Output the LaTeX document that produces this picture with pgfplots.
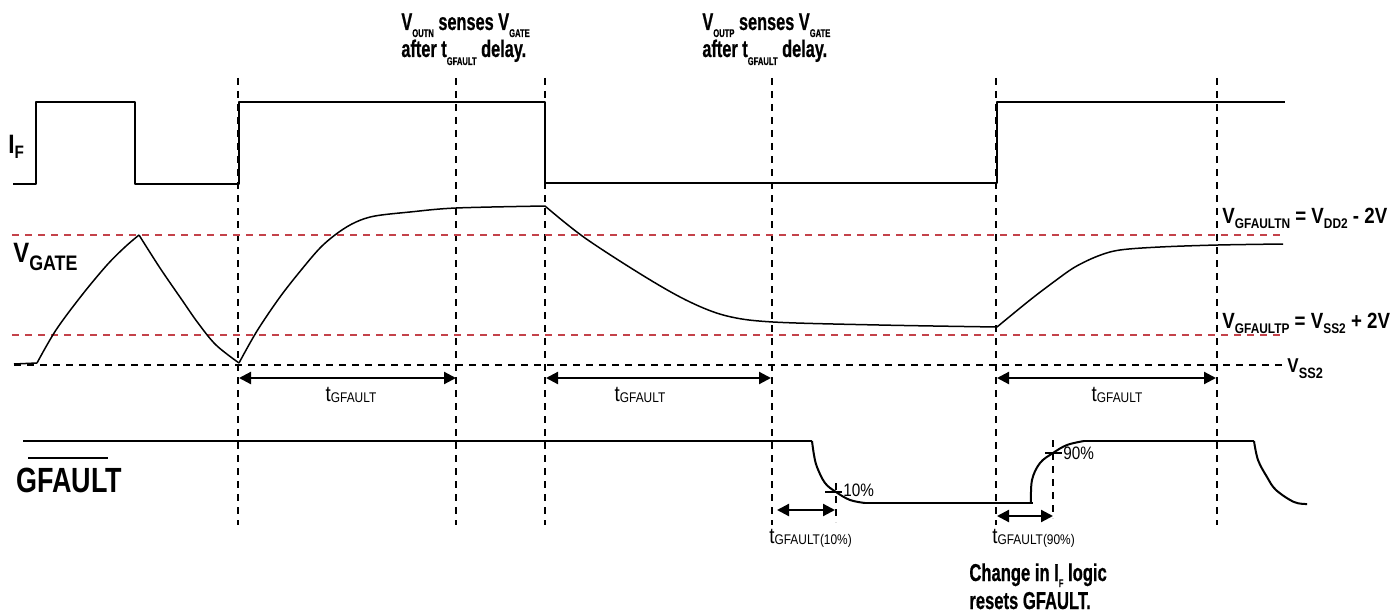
\documentclass[border=0pt]{standalone}
\usepackage{fontspec}
\setmainfont{Liberation Sans}
\newfontfamily\cnd[FakeStretch=0.77]{Liberation Sans}
\newfontfamily\hvy[FakeStretch=0.68, FakeBold=0.6]{Liberation Sans}
\newfontfamily\nrw[FakeStretch=0.85]{Liberation Sans}
\usepackage{graphicx}
\usepackage{pgfplots}
\pgfplotsset{compat=1.18}
\usetikzlibrary{arrows.meta}
\definecolor{vred}{RGB}{196,66,74}
\newcommand\ssub[3]{\raisebox{-#1}{\fontsize{#2}{#2}\selectfont #3}}
\begin{document}
\begin{tikzpicture}
\begin{axis}[
  width=699.5bp, height=306.5bp, scale only axis,
  xmin=0, xmax=1399, ymin=0, ymax=613, y dir=reverse,
  hide axis, clip=false, no markers,
  vd/.style={black, line width=0.7bp, dash pattern=on 3.5bp off 3bp},
  rd/.style={vred, line width=0.8bp, dash pattern=on 3.5bp off 3bp},
  sig/.style={black, line width=1bp, line join=round},
  crv/.style={black, line width=0.75bp, smooth, tension=0.55},
  arr/.style={black, line width=1.1bp, {Triangle[length=6bp,width=6bp]}-{Triangle[length=6bp,width=6bp]}},
]
% bounding box
\addplot[draw=none] coordinates {(0,0) (1399,613)};

% vertical dashed guide lines
\addplot[vd] coordinates {(238,78) (238,525)};
\addplot[vd] coordinates {(456,78) (456,525)};
\addplot[vd] coordinates {(545,78) (545,525)};
\addplot[vd] coordinates {(772,78) (772,525)};
\addplot[vd] coordinates {(996,78) (996,525)};
\addplot[vd] coordinates {(1217,78) (1217,525)};
\addplot[vd] coordinates {(836,483) (836,522)};
\addplot[vd] coordinates {(1053,440) (1053,518)};

% threshold lines
\addplot[rd] coordinates {(12,235) (1283,235)};
\addplot[rd] coordinates {(12,335) (1283,335)};
\addplot[vd] coordinates {(14,365) (1282,365)};

% I_F
\addplot[sig] coordinates {(13,184) (36,184) (36,102) (135,102) (135,184) (239,184) (239,102) (545,102) (545,183) (997,183) (997,102) (1285,102)};

% V_GATE
\addplot[black, line width=0.75bp] coordinates {(14,364) (37,363)};
\addplot[crv] coordinates {(37,363) (56,330) (82,295) (107,265) (125,247) (139,235)};
\addplot[crv] coordinates {(139,235) (160,268) (182,300) (198,323) (216,345) (239,363)};
\addplot[crv] coordinates {(239,363) (257,331) (280,297) (302,269) (321,247) (339,232) (356,222) (375,216) (410,212) (456,208) (545,206)};
\addplot[crv] coordinates {(545,206) (585,238) (647,278) (690,302) (727,316) (773,322) (879,325) (997,327)};
\addplot[crv] coordinates {(997,327) (1030,300) (1055,281) (1075,267) (1098,256) (1120,250) (1160,247) (1218,245) (1283,244)};

% GFAULT signal
\addplot[sig] coordinates {(23,441) (812,441)};
\addplot[sig, smooth, tension=0.6] coordinates {(812,441) (814,455) (817,467) (825,483) (836,492) (850,500) (865,503)};
\addplot[sig] coordinates {(865,503) (1033,503)};
\addplot[sig, smooth, tension=0.6] coordinates {(1031,503) (1032,480) (1040,463) (1053,453) (1067,445) (1084,441)};
\addplot[sig] coordinates {(1084,441) (1254,441)};
\addplot[sig, smooth, tension=0.6] coordinates {(1254,441) (1258,460) (1267,477) (1276,490) (1294,502) (1307,504)};

% 10% / 90% ticks
\addplot[black, line width=0.8bp] coordinates {(825,492) (842,492)};
\addplot[black, line width=0.8bp] coordinates {(1045,453) (1062,453)};

% timing arrows
\addplot[arr] coordinates {(239,378) (456,378)};
\addplot[arr] coordinates {(546,378) (771,378)};
\addplot[arr] coordinates {(997,378) (1216,378)};
\addplot[arr] coordinates {(777,510) (835,510)};
\addplot[arr] coordinates {(997,516) (1053,516)};

% overline of GFAULT
\addplot[black, line width=0.8bp] coordinates {(28,458) (108,458)};

% ---- text ----
% top annotations
\node[anchor=base west, inner sep=0] at (axis cs:401,30) {\hvy\bfseries\fontsize{12bp}{14bp}\selectfont V\ssub{3.5bp}{5.6bp}{OUTN} senses V\ssub{3.5bp}{5.6bp}{GATE}};
\node[anchor=base west, inner sep=0] at (axis cs:401,57) {\hvy\bfseries\fontsize{12bp}{14bp}\selectfont after t\ssub{4bp}{5.6bp}{GFAULT} delay.};
\node[anchor=base west, inner sep=0] at (axis cs:702,30) {\hvy\bfseries\fontsize{12bp}{14bp}\selectfont V\ssub{3.5bp}{5.6bp}{OUTP} senses V\ssub{3.5bp}{5.6bp}{GATE}};
\node[anchor=base west, inner sep=0] at (axis cs:702,57) {\hvy\bfseries\fontsize{12bp}{14bp}\selectfont after t\ssub{4bp}{5.6bp}{GFAULT} delay.};

% left signal labels
\node[anchor=base west, inner sep=0] at (axis cs:8,153) {\nrw\bfseries\fontsize{13.3bp}{15bp}\selectfont I\ssub{2.5bp}{9bp}{F}};
\node[anchor=base west, inner sep=0] at (axis cs:13,262) {\nrw\bfseries\fontsize{14bp}{16bp}\selectfont V\ssub{4bp}{10.5bp}{GATE}};
\node[anchor=base west, inner sep=0] at (axis cs:16,492) {\cnd\bfseries\fontsize{17.5bp}{19bp}\selectfont GFAULT};

% right threshold labels
\node[anchor=base west, inner sep=0] at (axis cs:1222,223) {\nrw\bfseries\fontsize{11bp}{13bp}\selectfont V\ssub{2.5bp}{7bp}{GFAULTN} = V\ssub{2.5bp}{7bp}{DD2} - 2V};
\node[anchor=base west, inner sep=0] at (axis cs:1222,328) {\nrw\bfseries\fontsize{11bp}{13bp}\selectfont V\ssub{2.5bp}{7bp}{GFAULTP} = V\ssub{2.5bp}{7bp}{SS2} + 2V};
\node[anchor=base west, inner sep=0] at (axis cs:1287,372) {\nrw\bfseries\fontsize{10bp}{12bp}\selectfont V\ssub{3bp}{7.5bp}{SS2}};

% t_GFAULT labels
\node[anchor=base, inner sep=0] at (axis cs:351,401) {\nrw\fontsize{11bp}{13bp}\selectfont t\ssub{0.5bp}{7bp}{GFAULT}};
\node[anchor=base, inner sep=0] at (axis cs:640,401) {\nrw\fontsize{11bp}{13bp}\selectfont t\ssub{0.5bp}{7bp}{GFAULT}};
\node[anchor=base, inner sep=0] at (axis cs:1117,401) {\nrw\fontsize{11bp}{13bp}\selectfont t\ssub{0.5bp}{7bp}{GFAULT}};
\node[anchor=base west, inner sep=0] at (axis cs:769,543) {\nrw\fontsize{11bp}{13bp}\selectfont t\ssub{0.5bp}{7bp}{GFAULT(10\%)}};
\node[anchor=base west, inner sep=0] at (axis cs:992,543) {\nrw\fontsize{11bp}{13bp}\selectfont t\ssub{0.5bp}{7bp}{GFAULT(90\%)}};
\node[anchor=base west, inner sep=0] at (axis cs:843,496) {\nrw\fontsize{9bp}{11bp}\selectfont 10\%};
\node[anchor=base west, inner sep=0] at (axis cs:1063,459) {\nrw\fontsize{9bp}{11bp}\selectfont 90\%};

% bottom note
\node[anchor=base west, inner sep=0] at (axis cs:969,581) {\hvy\bfseries\fontsize{12.2bp}{14bp}\selectfont Change in I\ssub{3bp}{5.6bp}{F} logic};
\node[anchor=base west, inner sep=0] at (axis cs:969,609) {\hvy\bfseries\fontsize{12.2bp}{14bp}\selectfont resets GFAULT.};
\end{axis}
\end{tikzpicture}
\end{document}
